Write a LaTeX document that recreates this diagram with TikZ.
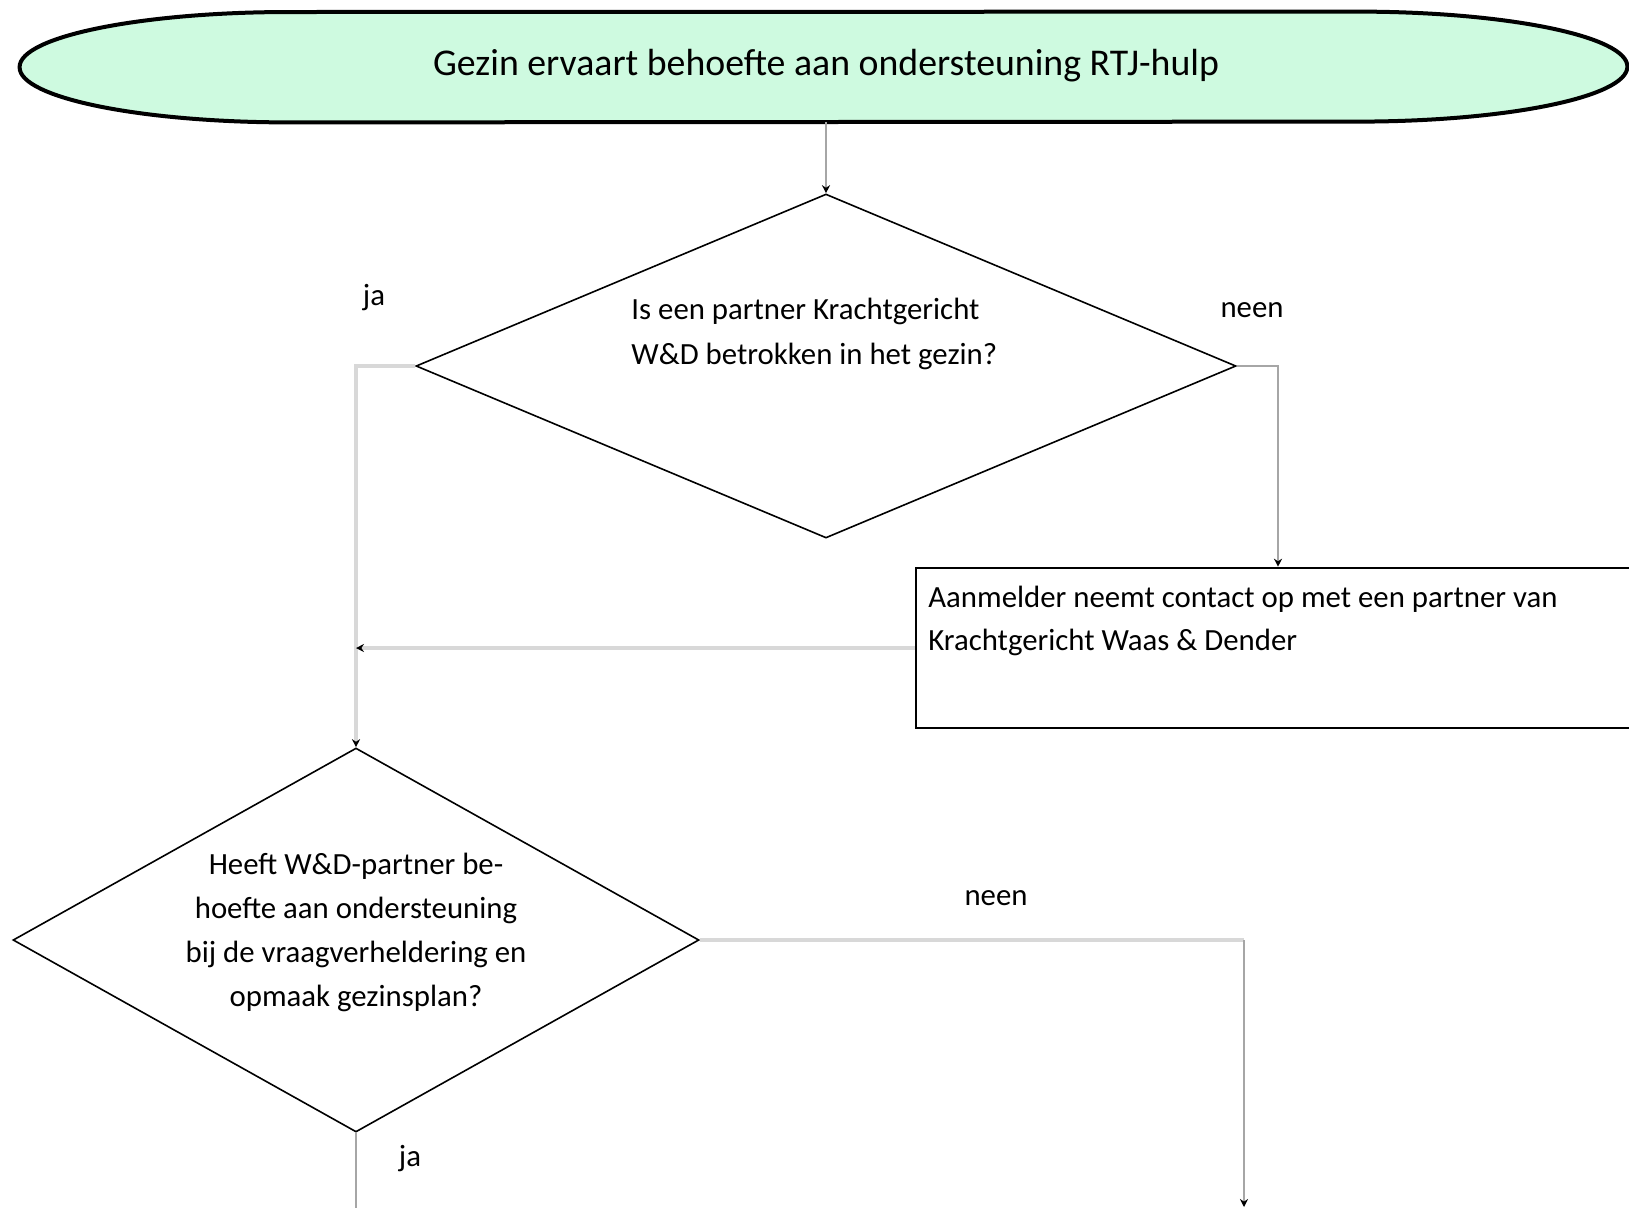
\documentclass[tikz,border=0pt]{standalone}
\usepackage{fontspec}
\setmainfont{Carlito}
\usetikzlibrary{shapes,positioning,arrows.meta,calc}
\definecolor{mint}{HTML}{CEFAE0}
\definecolor{linegray}{HTML}{D8D8D8}
\definecolor{wiregray}{HTML}{A6A6A6}

\begin{document}
\begin{tikzpicture} [
					x=0.5pt,y=-0.5pt,
					every node/.style={font=\fontsize{15.4}{22}\selectfont},
					startnode/.style={rectangle,minimum width=803.5pt,minimum height=55pt,inner sep=0,font=\fontsize{18.9}{22}\selectfont},
					startline/.style={line width=2pt,fill=mint},
					decision/.style={diamond,draw,line width=0.8pt,inner sep=0},
					procbox/.style={rectangle,draw,line width=1.3pt,minimum width=362pt,minimum height=80pt,inner sep=0},
					link/.style={draw=linegray,line width=1.6pt},
					thinlink/.style={draw=wiregray,line width=0.8pt},
					tip/.style={-{Stealth[black,length=4pt,width=4pt]}},
					answer/.style={inner sep=0},
				]
				\useasboundingbox (0,0) rectangle (1629,1207);
				
				% start: flat ellipse
				\node[startnode] (start) at (823.5,67) {};
				\draw[startline] (start.west) arc[start angle=180,end angle=90,x radius=135pt,y radius=27.5pt]
					-- ([xshift=-135pt]start.north east) arc[start angle=90,end angle=-90,x radius=135pt,y radius=27.5pt]
					-- ([xshift=135pt]start.south west) arc[start angle=270,end angle=180,x radius=135pt,y radius=27.5pt] -- cycle;
				\node[startnode] (starttext) at (826,66) {Gezin ervaart behoefte aan ondersteuning RTJ-hulp};
				
				\node[decision,minimum width=410pt,minimum height=172pt] (q1) at (826,366) {};
				\node[procbox] (contact) at (1278,648) {};
				\node[decision,minimum width=343pt,minimum height=192pt] (q2) at (356,940) {};
				
				% texts
				\node[anchor=west,align=left,inner sep=0,font=\fontsize{15.4}{22.8}\selectfont] (q1text) at (631,334) {Is een partner Krachtgericht\\W\&D betrokken in het gezin?};
				\node[anchor=west,align=left,inner sep=0,font=\fontsize{15.4}{21.4}\selectfont] (contacttext) at (928,621) {Aanmelder neemt contact op met een partner van\\Krachtgericht Waas \& Dender};
				\node[align=center,inner sep=0] (q2text) at (356,932) {Heeft W\&D-partner be-\\hoefte aan ondersteuning\\bij de vraagverheldering en\\opmaak gezinsplan?};
				
				\node[answer] (ja1) at (374,298) {ja};
				\node[answer] (neen1) at (1252,310) {neen};
				\node[answer] (neen2) at (996,898) {neen};
				\node[answer] (ja2) at (410,1159) {ja};
				
				\coordinate (bend2) at (1244,940);
				\coordinate (next2) at (1244,1207);
				\coordinate (next1) at (356,1240);
				
				\draw[thinlink,tip] (q1.north |- start.south) -- (q1.north);
				\draw[link,tip] (q1.west) -| (q2.north);
				\draw[thinlink,tip] (q1.east) -| (contact.north);
				\draw[link,tip] (contact.west) -- (contact.west -| q2.north);
				\draw[link] (q2.east) -- (bend2);
				\draw[thinlink,tip] (bend2) -- (next2);
				\draw[thinlink] (q2.south) -- (next1);
				
			\end{tikzpicture}
\end{document}
